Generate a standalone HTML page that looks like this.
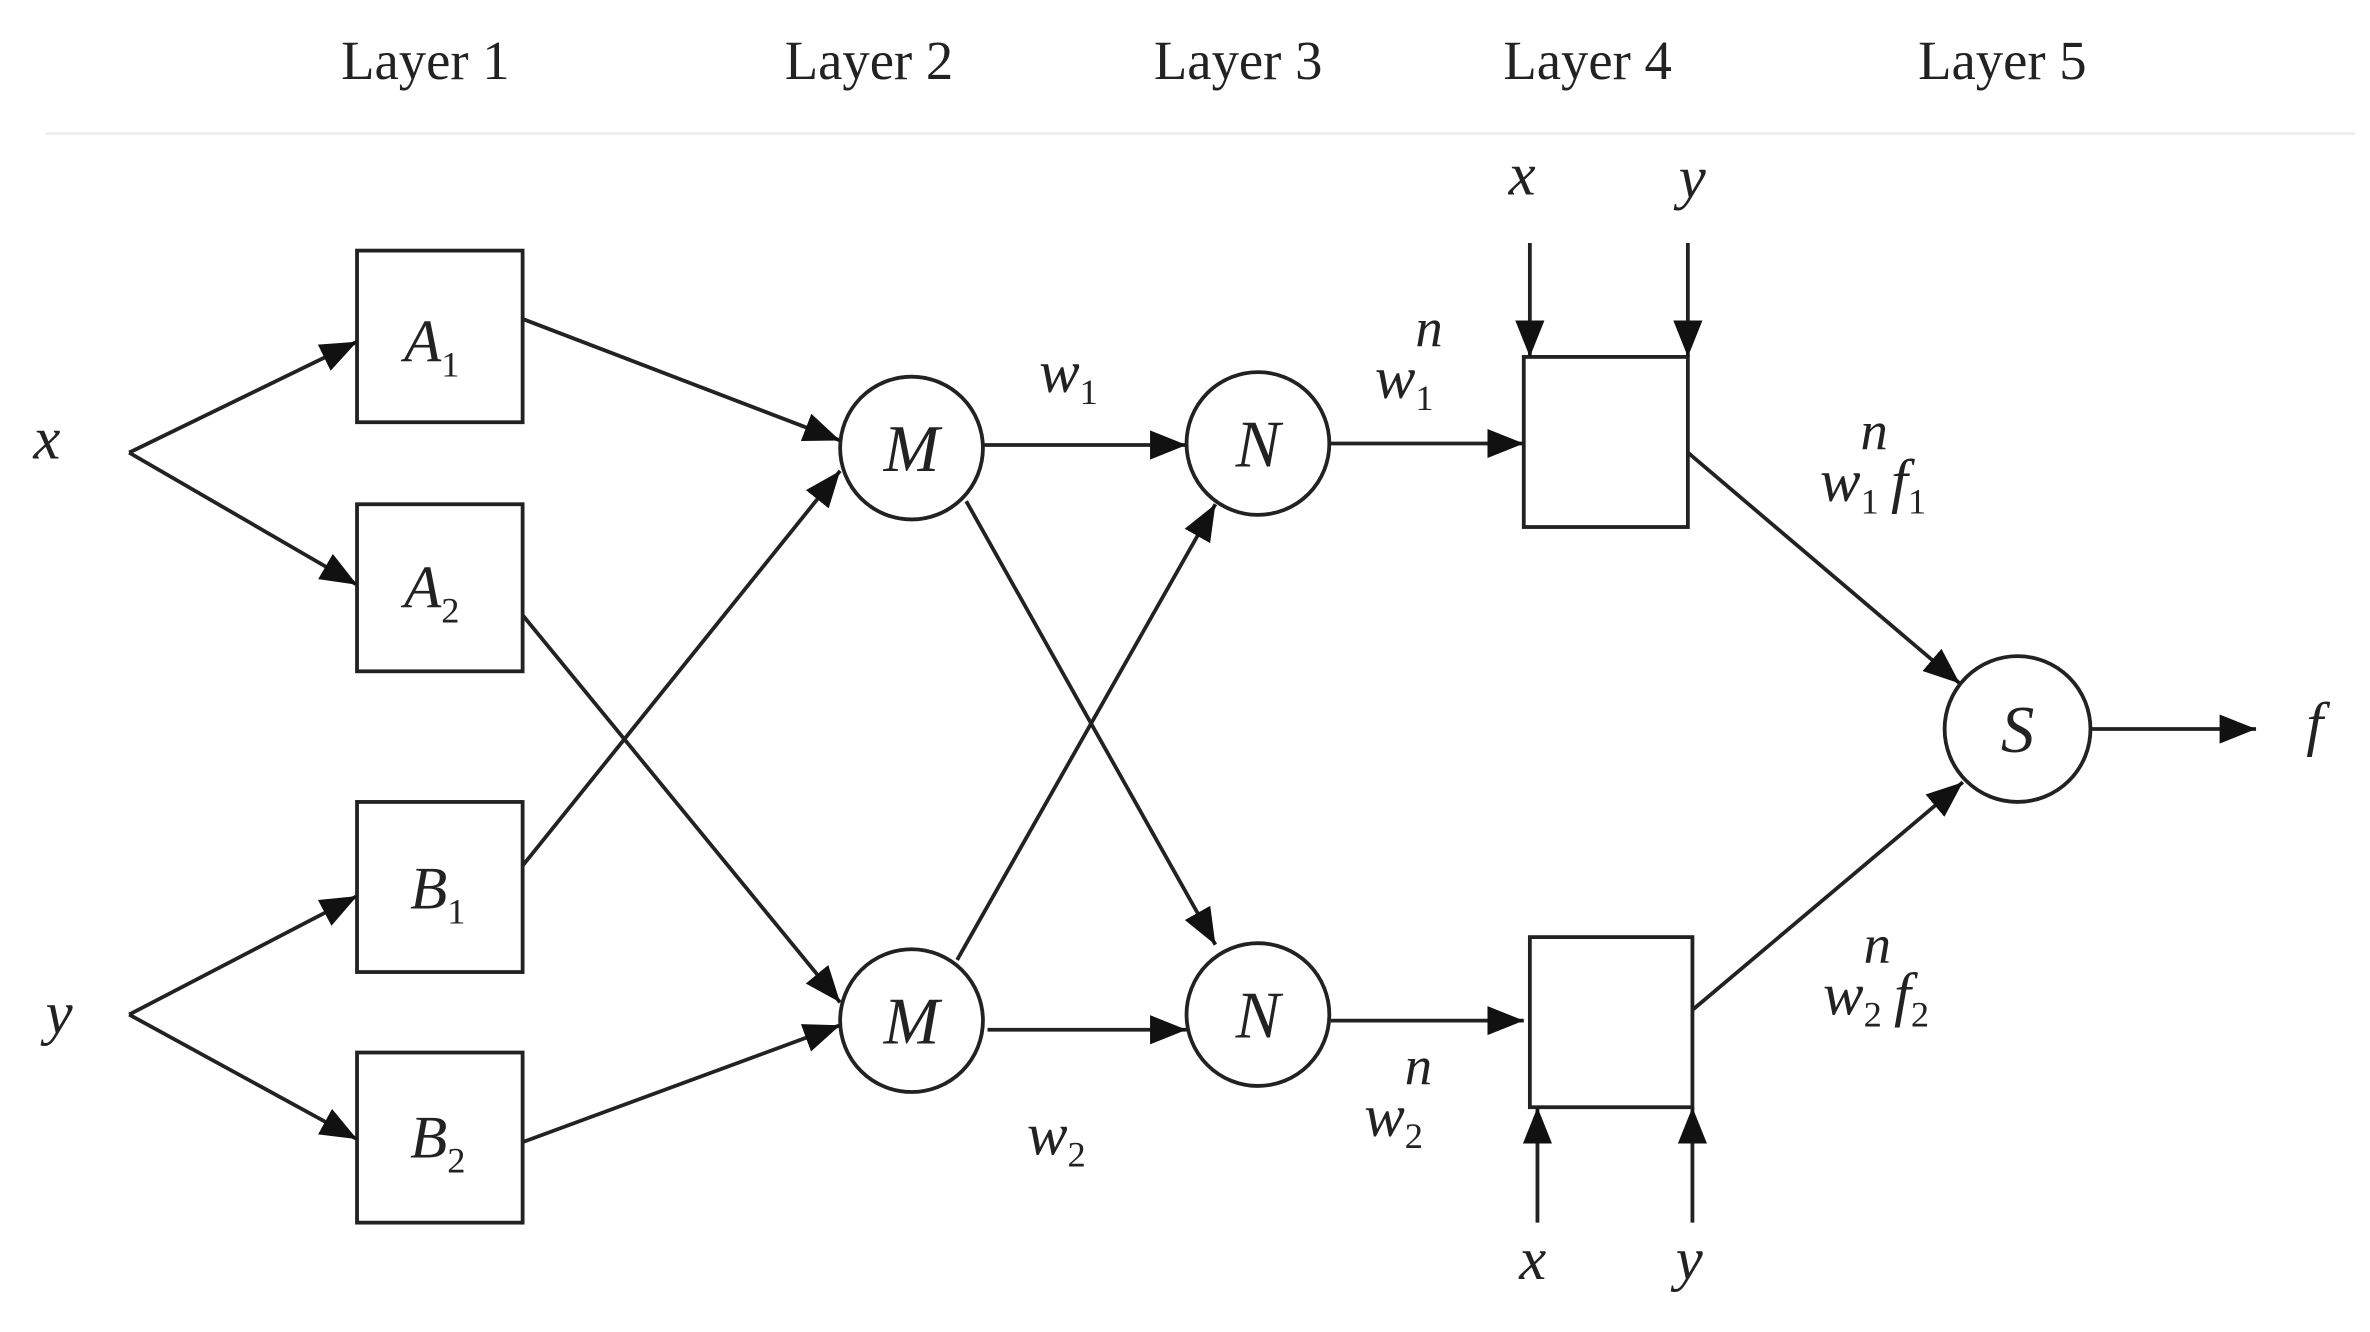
<!DOCTYPE html>
<html><head><meta charset="utf-8"><style>
html,body{margin:0;padding:0;background:#fff;}
svg{display:block;}
text{font-family:"Liberation Serif",serif;fill:#222;}
.i{font-style:italic;}
</style></head><body>
<svg width="2370" height="1332" viewBox="0 0 1560 877" preserveAspectRatio="none" xmlns="http://www.w3.org/2000/svg">
<defs>
<marker id="a" viewBox="0 0 10 10" refX="10" refY="5" markerWidth="11" markerHeight="11" markerUnits="userSpaceOnUse" orient="auto">
<path d="M0,0 L10,5 L0,10 z" fill="#111"/></marker>
<marker id="b" viewBox="0 0 10 10" refX="10" refY="5" markerWidth="24" markerHeight="24" markerUnits="userSpaceOnUse" orient="auto">
<path d="M0,1 L10,5 L0,9 z" fill="#111"/></marker>
</defs>
<rect width="1560" height="877" fill="#fff"/>
<line x1="30" y1="88" x2="1550" y2="88" stroke="#eee" stroke-width="2"/>
<g font-size="36" text-anchor="middle">
<text x="280" y="52">Layer 1</text>
<text x="572" y="52">Layer 2</text>
<text x="815" y="52">Layer 3</text>
<text x="1045" y="52">Layer 4</text>
<text x="1318" y="52">Layer 5</text>
</g>
<g stroke="#222" stroke-width="2.5" fill="none">
<rect x="235" y="165" width="109" height="113"/>
<rect x="235" y="332" width="109" height="110"/>
<rect x="235" y="528" width="109" height="112"/>
<rect x="235" y="693" width="109" height="112"/>
<circle cx="600" cy="295" r="47"/>
<circle cx="600" cy="672" r="47"/>
<circle cx="828" cy="292" r="47"/>
<circle cx="828" cy="668" r="47"/>
<circle cx="1328" cy="480" r="48"/>
<rect x="1003" y="235" width="108" height="112"/>
<rect x="1007" y="617" width="107" height="112"/>
</g>
<g stroke="#222" stroke-width="2.5" fill="none" marker-end="url(#b)">
<path d="M85,298 L235,225" marker-end="url(#b)"/>
<path d="M85,298 L235,385"/>
<path d="M85,668 L235,590"/>
<path d="M85,668 L235,750"/>
<path d="M344,210 L553,290"/>
<path d="M344,405 L553,660"/>
<path d="M344,570 L553,310"/>
<path d="M344,752 L553,675"/>
<path d="M647,293 L781,293"/>
<path d="M650,678 L781,678"/>
<path d="M636,330 L800,622"/>
<path d="M630,632 L800,332"/>
<path d="M876,292 L1003,292"/>
<path d="M876,672 L1003,672"/>
<path d="M1007,160 L1007,235"/>
<path d="M1111,160 L1111,235"/>
<path d="M1012,805 L1012,729"/>
<path d="M1114,805 L1114,729"/>
<path d="M1111,298 L1290,450"/>
<path d="M1114,665 L1292,515"/>
<path d="M1376,480 L1485,480"/>
</g>
<g class="i" font-size="40">
<text class="i" x="22" y="302">x</text>
<text class="i" x="30" y="680">y</text>
<text class="i" x="266" y="238">A<tspan font-size="24" dy="10" font-style="normal">1</tspan></text>
<text class="i" x="266" y="400">A<tspan font-size="24" dy="10" font-style="normal">2</tspan></text>
<text class="i" x="270" y="598">B<tspan font-size="24" dy="10" font-style="normal">1</tspan></text>
<text class="i" x="270" y="762">B<tspan font-size="24" dy="10" font-style="normal">2</tspan></text>
<text class="i" x="600" y="310" text-anchor="middle" font-size="44">M</text>
<text class="i" x="600" y="687" text-anchor="middle" font-size="44">M</text>
<text class="i" x="828" y="307" text-anchor="middle" font-size="44">N</text>
<text class="i" x="828" y="683" text-anchor="middle" font-size="44">N</text>
<text class="i" x="1328" y="495" text-anchor="middle" font-size="44">S</text>
<text class="i" x="1518" y="490">f</text>
<text class="i" x="684" y="258">w<tspan font-size="24" dy="8" font-style="normal">1</tspan></text>
<text class="i" x="676" y="760">w<tspan font-size="24" dy="8" font-style="normal">2</tspan></text>
<text class="i" x="905" y="262">w<tspan font-size="24" dy="8" font-style="normal">1</tspan><tspan dx="-12" dy="-42" font-size="36">n</tspan></text>
<text class="i" x="898" y="748">w<tspan font-size="24" dy="8" font-style="normal">2</tspan><tspan dx="-12" dy="-42" font-size="36">n</tspan></text>
<text class="i" x="993" y="128">x</text>
<text class="i" x="1105" y="130">y</text>
<text class="i" x="1000" y="842">x</text>
<text class="i" x="1103" y="842">y</text>
<text class="i" x="1198" y="330">w<tspan font-size="24" dy="8" font-style="normal">1</tspan><tspan dx="-12" dy="-42" font-size="36">n</tspan><tspan dx="2" dy="34">f</tspan><tspan font-size="24" dy="8" font-style="normal">1</tspan></text>
<text class="i" x="1200" y="668">w<tspan font-size="24" dy="8" font-style="normal">2</tspan><tspan dx="-12" dy="-42" font-size="36">n</tspan><tspan dx="2" dy="34">f</tspan><tspan font-size="24" dy="8" font-style="normal">2</tspan></text>
</g>
</svg>
</body></html>
